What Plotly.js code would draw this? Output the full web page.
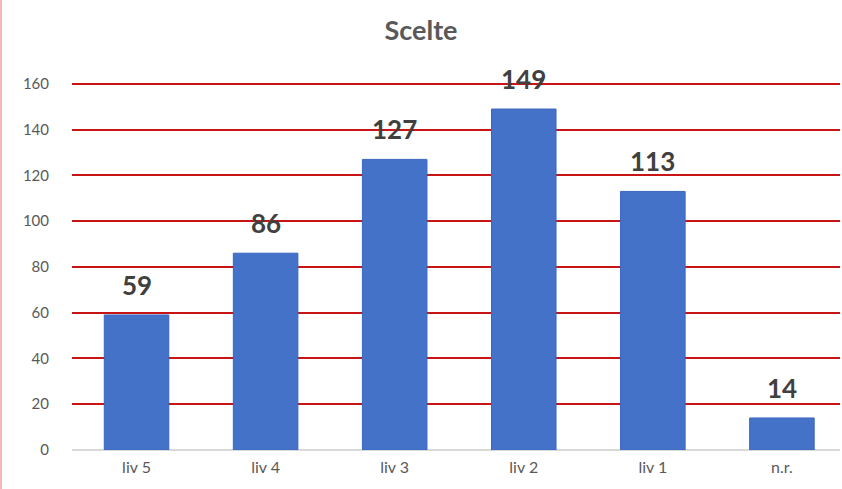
<!DOCTYPE html>
<html><head><meta charset="utf-8">
<script src="https://cdn.plot.ly/plotly-3.0.1.min.js"></script>
<style>html,body{margin:0;padding:0;background:#fff}#c{width:842px;height:489px}
#edge{position:absolute;left:0;top:0;width:2px;height:489px;background:#f4b6b6;z-index:5}</style>
</head><body><div id="edge"></div><div id="c"></div>
<script>
const categories = ["liv 5","liv 4","liv 3","liv 2","liv 1","n.r."];
const values = [59,86,127,149,113,14];
const yTicks = [0,20,40,60,80,100,120,140,160];

const ann = categories.map((c,i)=>({
  x:c, y:values[i], xref:'x', yref:'y', text:String(values[i]), showarrow:false,
  yanchor:'bottom', yshift:12,
  font:{family:'Lato, "Open Sans", sans-serif', size:26, color:'#404040', weight:'bold'}
}));

Plotly.newPlot('c',[{
  type:'bar', x:categories, y:values, width:0.5,
  marker:{color:'#4572c9', line:{color:'#3a66bf', width:1}},
  hoverinfo:'skip', cliponaxis:false
}],{
  width:842, height:489,
  margin:{l:72, r:2, t:77, b:39},
  paper_bgcolor:'#fff', plot_bgcolor:'#fff',
  title:{text:'<b>Scelte</b>', x:0.5, xanchor:'center', y:0.938, yanchor:'middle',
    font:{family:'Lato, "Open Sans", sans-serif', size:27, color:'#595959'}},
  xaxis:{range:[-0.5,5.45], showgrid:false, zeroline:false, showline:false, ticks:'',
    ticklabelstandoff:6,
    tickfont:{family:'Lato, "Open Sans", sans-serif', size:16, color:'#595959'}},
  yaxis:{range:[0,163], tickvals:yTicks, showgrid:true, gridcolor:'#c81414', gridwidth:2,
    zeroline:true, zerolinecolor:'#d9d9d9', zerolinewidth:2, showline:false, ticks:'',
    ticklabelstandoff:22,
    tickfont:{family:'Lato, "Open Sans", sans-serif', size:15, color:'#595959'}},
  annotations:ann, showlegend:false, bargap:0.5
},{staticPlot:true});
</script></body></html>
